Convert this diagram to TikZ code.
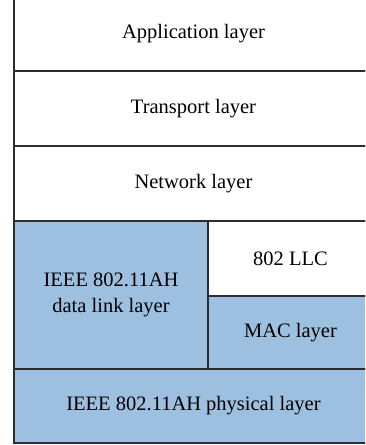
\documentclass[tikz,border=0pt]{standalone}
\usepackage{fontspec}
\setmainfont{Liberation Serif}
\usetikzlibrary{positioning}

\definecolor{linkblue}{RGB}{157,192,225}
\definecolor{edgegray}{RGB}{45,45,45}

\begin{document}
\begin{tikzpicture}[x=1pt, y=-1pt, font=\fontsize{20.5}{26}\selectfont, align=center,
		layer/.style={draw=edgegray, line width=1.2pt, fill=white, inner sep=0pt, minimum width=359pt, minimum height=75pt},
		ieee/.style={layer, fill=linkblue}]

	\useasboundingbox	(0, 0) rectangle (365, 445);
	\clip				(0, 0) rectangle (365, 445);

	\node[layer]	(app)	at	(193.5, 33.5)	{Application layer};
	\node[layer]	(tran)	at	(193.5, 108.5)	{Transport layer};
	\node[layer]	(net)	at	(193.5, 183.5)	{Network layer};
	\node[ieee, minimum width=194pt, minimum height=148pt]	(dll)	at	(111, 295)	{IEEE 802.11AH \\ data link layer};
	\node[layer, minimum width=165pt]	(llc)	at	(290.5, 258.5)	{802 LLC};
	\node[ieee, minimum width=165pt, minimum height=73pt]	(mac)	at	(290.5, 332.5)	{MAC layer};
	\node[ieee, minimum height=74pt]	(phy)	at	(193.5, 406)	{IEEE 802.11AH physical layer};

\end{tikzpicture}
\end{document}
